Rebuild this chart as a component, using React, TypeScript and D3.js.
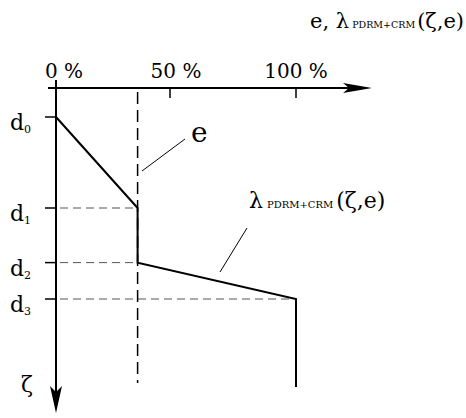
import React from "react";
import * as d3 from "d3";

// depth levels d0..d3 (ζ, arbitrary units) and the curve values in %
const levelNames = ["0", "1", "2", "3"];
const levelDepths = [0, 3.0, 4.8, 6.0];
const eValue = 34;
const lambdaDepths = [0, 3.0, 4.8, 6.0, 8.9];
const lambdaValues = [0, 34, 34, 100, 100];
const tickValues = [0, 47.5, 100];
const tickLabels = ["0 %", "50 %", "100 %"];

const W = 466;
const H = 418;
const txt = { fontFamily: "DejaVu Serif" };

const App = () => {
  const x = d3.scaleLinear().domain([0, 100]).range([56, 296]);
  const y = d3.scaleLinear().domain([0, 9]).range([117, 390]);

  const lambdaLine = d3
    .line<number>()
    .x((_, i) => x(lambdaValues[i]))
    .y((d) => y(d));

  const x0 = x(0);
  const axisY = 88;

  return (
    <div style={{ position: "absolute", left: 0, top: 0 }}>
      <svg width={W} height={H} style={{ display: "block", background: "#fff" }}>
        {/* top axis */}
        <line x1={48} y1={axisY} x2={350} y2={axisY} stroke="#000" strokeWidth={2} />
        <path d={`M372,${axisY} L343,${axisY - 5} L349,${axisY} L343,${axisY + 5} Z`} fill="#000" />
        {tickValues.map((v, i) =>
          i === 0 ? null : (
            <line key={v} x1={x(v)} y1={axisY} x2={x(v)} y2={98} stroke="#000" strokeWidth={1.5} />
          )
        )}
        {tickLabels.map((t, i) => (
          <text
            key={t}
            x={i === 0 ? x0 - 11 : x(i === 1 ? 50 : tickValues[i])}
            y={78}
            style={txt}
            fontSize={20}
            textAnchor={i === 0 ? "start" : "middle"}
          >
            {t}
          </text>
        ))}

        {/* vertical ζ axis */}
        <line x1={x0} y1={80} x2={x0} y2={395} stroke="#000" strokeWidth={2} />
        <path d={`M${x0},413 L${x0 - 6},386 L${x0},392 L${x0 + 6},386 Z`} fill="#000" />
        <text x={21} y={392} style={txt} fontSize={22}>ζ</text>

        {/* depth levels */}
        {levelDepths.map((d, i) => (
          <g key={i}>
            <line x1={45} y1={y(d)} x2={x0} y2={y(d)} stroke="#000" strokeWidth={1.5} />
            {i > 0 && (
              <line
                x1={x0 + 4}
                y1={y(d)}
                x2={x(lambdaValues[i]) - 2}
                y2={y(d)}
                stroke="#555"
                strokeWidth={1}
                strokeDasharray="8,5"
              />
            )}
            <text x={10} y={y(d) + 13} style={txt} fontSize={22}>
              d
              <tspan fontSize={11} dy={3}>{levelNames[i]}</tspan>
            </text>
          </g>
        ))}

        {/* e dashed line */}
        <line
          x1={x(eValue)}
          y1={92}
          x2={x(eValue)}
          y2={383}
          stroke="#000"
          strokeWidth={1.5}
          strokeDasharray="12,6"
        />

        {/* λ curve */}
        <path d={lambdaLine(lambdaDepths) ?? ""} fill="none" stroke="#000" strokeWidth={2} />

        {/* annotations */}
        <line x1={142} y1={171} x2={185} y2={139} stroke="#000" strokeWidth={1} />
        <text x={191} y={142} style={txt} fontSize={28}>e</text>

        <line x1={220} y1={272} x2={247} y2={228} stroke="#000" strokeWidth={1} />
        <text x={249} y={208} style={txt} fontSize={22}>
          λ
          <tspan fontSize={10} dx={4}>PDRM+CRM</tspan>
          <tspan fontSize={22} dx={3}>(ζ,e)</tspan>
        </text>

        <text x={464} y={28} style={txt} fontSize={21} textAnchor="end">
          e, λ
          <tspan fontSize={9.5} dx={3}>PDRM+CRM</tspan>
          <tspan fontSize={21} dx={2}>(ζ,e)</tspan>
        </text>
      </svg>
    </div>
  );
};

export default App;
